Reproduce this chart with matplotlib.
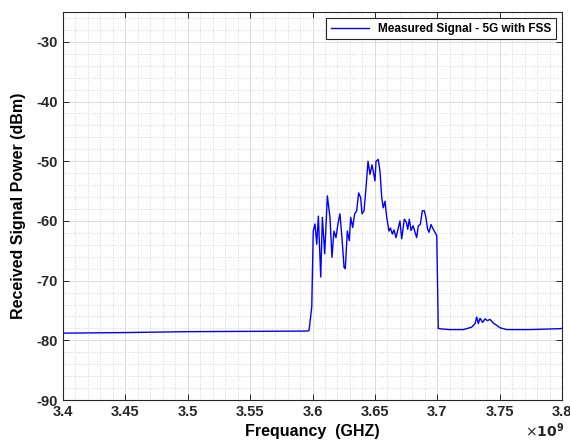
import numpy as np
from matplotlib import pyplot as plt
from matplotlib.ticker import FuncFormatter, MultipleLocator

plt.rcParams['font.family'] = ['Liberation Sans', 'DejaVu Sans']
plt.rcParams['axes.unicode_minus'] = False

# frequency (GHz) and received power (dBm)
freq_ghz = [
    3.4000, 3.4500, 3.5000, 3.5500, 3.5950, 3.5972, 3.5994, 3.6006, 3.6020,
    3.6034, 3.6047, 3.6066, 3.6079, 3.6098, 3.6119, 3.6140, 3.6156, 3.6172,
    3.6188, 3.6204, 3.6220, 3.6236, 3.6253, 3.6263, 3.6279, 3.6295, 3.6306,
    3.6322, 3.6338, 3.6354, 3.6370, 3.6386, 3.6397, 3.6413, 3.6429, 3.6445,
    3.6461, 3.6477, 3.6487, 3.6501, 3.6509, 3.6527, 3.6541, 3.6555, 3.6567,
    3.6581, 3.6595, 3.6613, 3.6625, 3.6640, 3.6653, 3.6669, 3.6683, 3.6701,
    3.6715, 3.6736, 3.6752, 3.6763, 3.6776, 3.6790, 3.6806, 3.6822, 3.6835,
    3.6848, 3.6864, 3.6880, 3.6896, 3.6907, 3.6923, 3.6934, 3.6950, 3.6968,
    3.6982, 3.6996, 3.7008, 3.7036, 3.7102,
    3.7209, 3.7276, 3.7303, 3.7316, 3.7329, 3.7343, 3.7364, 3.7383, 3.7401,
    3.7423, 3.7449, 3.7477, 3.7503, 3.7557, 3.7743, 3.7984, 3.8000,
]
power_dbm = [
    -78.8, -78.7, -78.55, -78.5, -78.45, -78.4, -74.4, -61.7, -60.5,
    -63.9, -59.2, -69.4, -59.4, -65.5, -55.8, -59.4, -66.1, -61.7,
    -62.8, -60.5, -58.8, -62.8, -67.8, -68.0, -61.7, -63.3, -59.4,
    -61.1, -58.8, -58.3, -55.3, -56.1, -58.8, -58.3, -54.4, -50.0,
    -52.2, -50.6, -51.7, -53.3, -50.0, -49.7, -51.7, -56.1, -57.8,
    -56.7, -59.4, -61.7, -61.2, -62.2, -61.5, -62.8, -61.6, -60.0,
    -63.0, -59.7, -60.2, -61.4, -59.7, -61.6, -60.8, -61.9, -62.8,
    -60.8, -60.6, -58.3, -58.3, -59.2, -61.4, -61.9, -60.6, -61.4,
    -61.9, -62.5, -78.0, -78.1, -78.2,
    -78.2, -77.8, -77.2, -76.1, -77.2, -76.3, -77.0, -76.4, -76.7,
    -76.5, -77.1, -77.5, -77.9, -78.2, -78.2, -78.05, -78.0,
]
legend_label = 'Measured Signal - 5G with FSS'

freq_hz = np.array(freq_ghz) * 1e9

fig = plt.figure(figsize=(5.7, 4.45), dpi=100)
ax = fig.add_axes([0.1105, 0.1011, 0.8755, 0.8719])
ax.plot(freq_hz, power_dbm, color='#0000ff', linewidth=1.0, label=legend_label)

ax.set_xlim(3.4e9, 3.8e9)
ax.set_ylim(-90, -25)
ax.xaxis.set_major_locator(MultipleLocator(0.05e9))
ax.xaxis.set_minor_locator(MultipleLocator(0.01e9))
ax.yaxis.set_major_locator(MultipleLocator(10))
ax.yaxis.set_minor_locator(MultipleLocator(2))
ax.xaxis.set_major_formatter(FuncFormatter(lambda v, p: f'{v / 1e9:g}'))

ax.grid(True, which='major', color='#dcdcdc', linewidth=0.7)
ax.grid(True, which='minor', color='#d4d4d4', linestyle=':', linewidth=0.7)
ax.set_axisbelow(True)

ax.tick_params(which='both', direction='in', top=True, right=True,
               colors='#262626', labelsize=10.5)
ax.tick_params(which='major', length=4, width=0.7)
ax.tick_params(which='minor', length=0)
for lab in ax.get_xticklabels() + ax.get_yticklabels():
    lab.set_fontweight('bold')
for sp in ax.spines.values():
    sp.set_color('#262626')
    sp.set_linewidth(0.8)

ax.set_xlabel('Frequancy  (GHZ)', fontsize=11.5, fontweight='bold', labelpad=4)
ax.set_ylabel('Received Signal Power (dBm)', fontsize=11.5, fontweight='bold', labelpad=8)
fig.text(0.99, 0.012, r'$\times\mathbf{10^{9}}$', ha='right', va='bottom',
         fontsize=10, color='#262626')

leg = ax.legend(loc='upper right', fancybox=False, framealpha=1,
                edgecolor='#262626', prop={'weight': 'bold', 'size': 8.5},
                borderaxespad=0.5, handlelength=3.2)
leg.get_frame().set_linewidth(0.8)

fig.savefig('out.png', dpi=100)
